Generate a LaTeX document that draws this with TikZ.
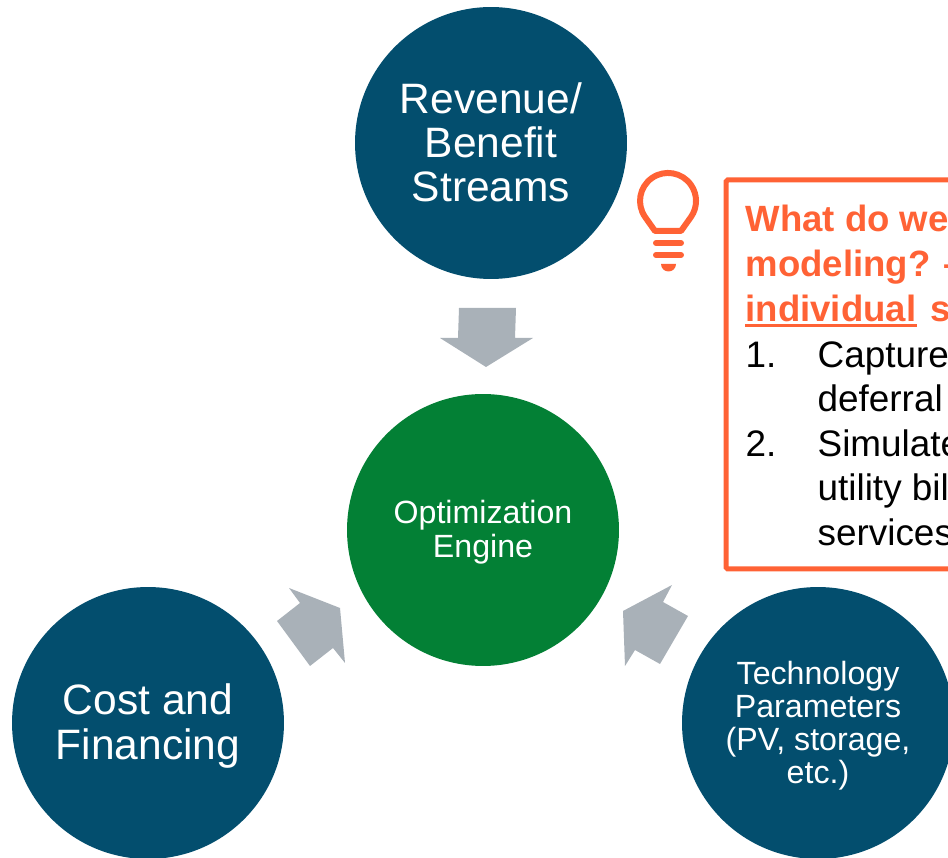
\documentclass[tikz,border=0pt]{standalone}
\usepackage{fontspec}
\setmainfont{Liberation Sans}
\definecolor{stream}{HTML}{034E6E}
\definecolor{engine}{HTML}{038035}
\definecolor{blockgray}{HTML}{A9B1B8}
\definecolor{idea}{HTML}{FF6235}
\tikzset{
	stream/.style = {circle, minimum size = 5.44cm, inner sep = 0pt, align = center, fill = stream, text = white},
	engine/.style = {stream, fill = engine},
	bigtxt/.style = {font = \fontsize{24.2}{25.2}\selectfont},
	smalltxt/.style = {font = \fontsize{18.3}{19.2}\selectfont},
	techtxt/.style = {font = \fontsize{18.3}{18.8}\selectfont},
	blockarrow/.style = {fill = blockgray},
	notebox/.style = {draw = idea, line width = .1cm, rounded corners = 1pt},
	bulb/.style = {draw = idea, line width = .12cm, line join = round},
	bulbbar/.style = {draw = idea, line width = .12cm, line cap = round},
	headline/.style = {anchor = base west, inner sep = 0pt, text = idea, font = \fontsize{20.8}{25.3}\selectfont\bfseries},
	bodyline/.style = {anchor = base west, inner sep = 0pt, text = black, font = \fontsize{21}{25.3}\selectfont}
}

\begin{document}
\begin{tikzpicture}[x = 0.02cm, y = -0.02cm]
	
	\path [use as bounding box, clip] (0,0) rectangle (948,858);
	
	%% nodes
	\node (revenue) [stream, bigtxt] at (491,143) {Revenue/\\Benefit\\Streams\rule[-1.2pt]{0pt}{0pt}};
	\node (optim) [engine, smalltxt] at (483,530) {\rule{0pt}{15.7pt}Optimization\\Engine};
	\node (cost) [stream, bigtxt] at (148,723) {\rule{0pt}{21pt}Cost and\\Financing};
	\node (tech) [stream, techtxt] at (818,723) {\rule{0pt}{16.2pt}Technology\\Parameters\\(PV, storage,\\etc.)};
	
	%% arrows
	\fill [blockarrow] (459,308) -- (516,308) -- (515,338) -- (533,338) -- (486,367) -- (440,338) -- (458,338) -- cycle;
	\fill [blockarrow] (289,588) -- (340,608) -- (345,663) -- (333,648) -- (310,666) -- (277,621) -- (300,603) -- cycle;
	\fill [blockarrow] (672,585) -- (623,611) -- (625,666) -- (635,650) -- (660,664) -- (688,616) -- (663,602) -- cycle;
	
	%% light bulb
	\draw [bulb] (655,231) -- (645.1,217) arc [start angle = 215, end angle = -35, radius = .56cm] -- (681,231) -- cycle;
	\draw [bulbbar] (656,243) -- (681,243);
	\draw [bulbbar] (656,255) -- (681,255);
	\fill [idea] (661,264) -- (676,264) arc [start angle = 0, end angle = -180, radius = .15cm] -- cycle;
	
	%% note box
	\draw [notebox] (726,180) rectangle (980,569);
	\node (what) [headline] at (745.3,232) {What do we};
	\node (model) [headline] at (745.3,277) {modeling? –};
	\node (indiv) [headline] at (745.3,322) {individual};
	\node (indivs) [headline] at (930,322) {s};
	\draw [idea, line width = .06cm] ([yshift = -1.8pt]indiv.south west) -- ([yshift = -1.8pt]indiv.south east);
	
	\node (numa) [bodyline] at (745.3,367.5) {1.};
	\node (capture) [bodyline] at (817.3,367.5) {Capture};
	\node (deferral) [bodyline] at (817.3,412) {deferral};
	\node (numb) [bodyline] at (745.3,457) {2.};
	\node (simulate) [bodyline] at (817.3,457) {Simulate};
	\node (utility) [bodyline] at (817.3,501) {utility bill};
	\node (services) [bodyline] at (817.3,546) {services};
	
\end{tikzpicture}
\end{document}
